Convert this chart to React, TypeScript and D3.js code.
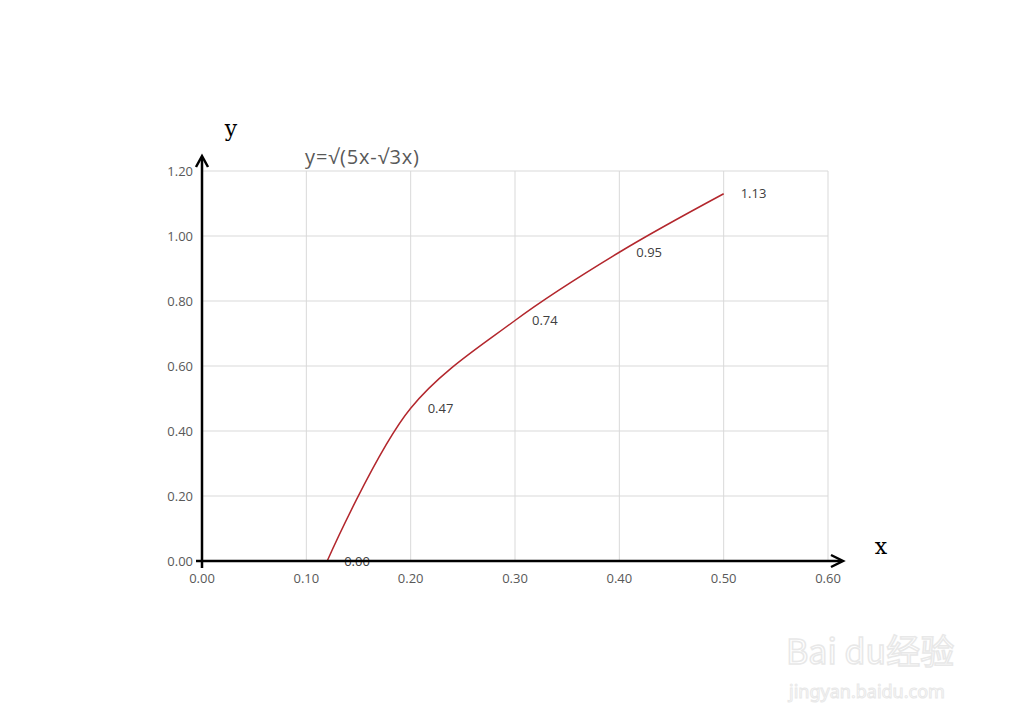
import React from "react";
import * as d3 from "d3";

const xs = [0.12, 0.2, 0.3, 0.4, 0.5];
const ys = [0.0, 0.47, 0.74, 0.95, 1.13];
const xTicks = [0, 0.1, 0.2, 0.3, 0.4, 0.5, 0.6];
const yTicks = [0, 0.2, 0.4, 0.6, 0.8, 1.0, 1.2];
const title = "y=√(5x-√3x)";

export default function App() {
  const left = 202, right = 828, top = 171, bottom = 561;
  const x = d3.scaleLinear().domain([0, 0.6]).range([left, right]);
  const y = d3.scaleLinear().domain([0, 1.2]).range([bottom, top]);
  const pts = xs.map((v, i) => [v, ys[i]] as [number, number]);
  const line = d3
    .line<[number, number]>()
    .x((d) => x(d[0]))
    .y((d) => y(d[1]))
    .curve(d3.curveCatmullRom.alpha(0.5));
  const font = "'Open Sans', 'Noto Sans', sans-serif";
  const grey = "#595959";
  return (
    <svg
      width={1024}
      height={722}
      style={{ position: "absolute", left: 0, top: 0, background: "#fff" }}
    >
      <rect x={0} y={0} width={1024} height={722} fill="#fff" />
      {/* grid */}
      {xTicks.slice(1).map((t) => (
        <line key={"gx" + t} x1={x(t)} x2={x(t)} y1={top} y2={bottom} stroke="#d9d9d9" strokeWidth={1} />
      ))}
      {yTicks.slice(1).map((t) => (
        <line key={"gy" + t} x1={left} x2={right} y1={y(t)} y2={y(t)} stroke="#d9d9d9" strokeWidth={1} />
      ))}
      {/* tick labels */}
      {yTicks.map((t) => (
        <text key={"yl" + t} x={left - 9} y={y(t)} dy="0.35em" textAnchor="end" fontFamily={font} fontSize={13} fill={grey}>
          {t.toFixed(2)}
        </text>
      ))}
      {xTicks.map((t) => (
        <text key={"xl" + t} x={x(t)} y={bottom + 22} textAnchor="middle" fontFamily={font} fontSize={13} fill={grey}>
          {t.toFixed(2)}
        </text>
      ))}
      {/* curve */}
      <path d={line(pts) || ""} fill="none" stroke="#b3272d" strokeWidth={1.5} />
      {/* data labels */}
      {pts.map((p, i) => (
        <text key={"dl" + i} x={x(p[0]) + 17} y={y(p[1])} dy="0.35em" fontFamily={font} fontSize={13} fill="#404040">
          {p[1].toFixed(2)}
        </text>
      ))}
      {/* axes */}
      <line x1={left} x2={left} y1={bottom + 7} y2={157} stroke="#000" strokeWidth={2.5} />
      <polyline points={`${left - 6},${167} ${left},${156} ${left + 6},${167}`} fill="none" stroke="#000" strokeWidth={2.5} />
      <line x1={left - 6} x2={842} y1={bottom} y2={bottom} stroke="#000" strokeWidth={2.5} />
      <polyline points={`${831},${bottom - 6} ${843},${bottom} ${831},${bottom + 6}`} fill="none" stroke="#000" strokeWidth={2.5} />
      {/* axis titles */}
      <text x={231} y={136} textAnchor="middle" fontFamily="'DejaVu Serif', 'Liberation Serif', serif" fontSize={22} fill="#000">y</text>
      <text x={881} y={554} textAnchor="middle" fontFamily="'DejaVu Serif', 'Liberation Serif', serif" fontSize={22} fill="#000">x</text>
      {/* chart title */}
      <text x={305} y={164} fontFamily={font} fontSize={20} fill={grey} textLength={114}>{title}</text>
      {/* watermark */}
      <text x={786} y={664} fontFamily="'Noto Sans CJK SC', sans-serif" fontSize={34} fill="#fff" stroke="#e8e8e8" strokeWidth={1.5}>Bai du经验</text>
      <text x={789} y={698} fontFamily="'Noto Sans', sans-serif" fontSize={18} fill="#fff" stroke="#e8e8e8" strokeWidth={1}>jingyan.baidu.com</text>
    </svg>
  );
}
